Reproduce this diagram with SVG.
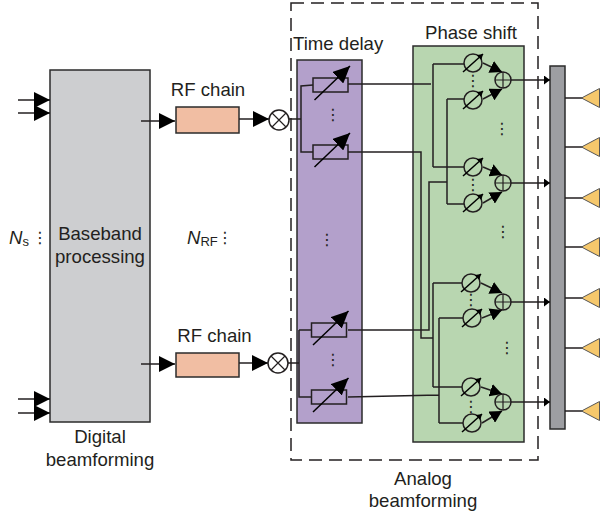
<svg xmlns="http://www.w3.org/2000/svg" width="600" height="516" viewBox="0 0 600 516">
<style>
text{font-family:"Liberation Sans",Arial,sans-serif;font-size:18.6px;fill:#231f20}
.m{text-anchor:middle}
.i{font-style:italic}
.d{font-family:"DejaVu Sans",sans-serif;font-size:16px;text-anchor:middle}
.l{fill:none;stroke:#231f20;stroke-width:1.5}
.b{stroke:#2b2b2b;stroke-width:1.5}
.ant{fill:#f6c86c;stroke:#555;stroke-width:1}
</style>
<defs>
<marker id="big" markerUnits="userSpaceOnUse" markerWidth="17" markerHeight="16" refX="16" refY="8" orient="auto"><path d="M0 0L16 8L0 16Z" fill="#000"/></marker>
<marker id="med" markerUnits="userSpaceOnUse" markerWidth="13" markerHeight="13" refX="12" refY="6.500" orient="auto"><path d="M0 0L12 6.500L0 13Z" fill="#000"/></marker>
<marker id="out" markerUnits="userSpaceOnUse" markerWidth="7" markerHeight="10" refX="6" refY="4.500" orient="auto"><path d="M0 0L6 4.500L0 9Z" fill="#000"/></marker>
<marker id="small" markerUnits="userSpaceOnUse" markerWidth="6" markerHeight="7" refX="5.500" refY="3.500" orient="auto"><path d="M0 0L5.500 3.500L0 7Z" fill="#000"/></marker>
<marker id="var" markerUnits="userSpaceOnUse" markerWidth="18" markerHeight="16" refX="17" refY="8" orient="auto"><path d="M0 0L17 8L0 16Z" fill="#000"/></marker>
<g id="res">
<rect x="-17.500" y="-7" width="35" height="14" fill="none" stroke="#231f20" stroke-width="1.500"/>
<path d="M-16 15L19.500 -19" fill="none" stroke="#000" stroke-width="1.500" marker-end="url(#var)"/>
</g>
<g id="shifter">
<circle r="9" fill="none" stroke="#231f20" stroke-width="1.500"/>
<path d="M-10 9L10 -9" fill="none" stroke="#000" stroke-width="1.500" marker-end="url(#small)"/>
</g>
<g id="sum">
<circle r="8" fill="none" stroke="#231f20" stroke-width="1.500"/>
<path d="M-8 0H8M0 -8V8" fill="none" stroke="#231f20" stroke-width="1.200"/>
</g>
<g id="mix">
<circle r="10" fill="none" stroke="#231f20" stroke-width="1.500"/>
<path d="M-7 -7L7 7M-7 7L7 -7" fill="none" stroke="#231f20" stroke-width="1.200"/>
</g>
</defs>
<rect width="600" height="516" fill="#fff"/>

<g id="analog-frame"><rect x="291" y="3" width="247" height="457" fill="none" stroke="#231f20" stroke-width="1.500" stroke-dasharray="13 7"/></g>

<g id="digital"><rect class="b" x="50" y="70" width="100" height="352" fill="#cdced0"/>
<text class="m" x="100" y="240">Baseband</text><text class="m" x="100" y="263">processing</text></g>
<g id="digital-label"><text class="m" x="100" y="443">Digital</text><text class="m" x="100" y="466">beamforming</text></g>
<g id="ns"><text x="9" y="244"><tspan class="i">N</tspan><tspan font-size="13" dy="2">s</tspan></text><text class="d" x="40" y="243">⋮</text></g>
<g id="nrf"><text x="187" y="244"><tspan class="i">N</tspan><tspan font-size="13" dy="2">RF</tspan></text><text class="d" x="225" y="243">⋮</text></g>
<g id="rf1"><rect class="b" x="176" y="107" width="63" height="26" fill="#f1bea3"/><text class="m" x="208" y="96">RF chain</text></g>
<g id="rf2"><rect class="b" x="176" y="353" width="63" height="24" fill="#f1bea3"/><text class="m" x="214.500" y="342">RF chain</text></g>

<g id="time-delay"><rect class="b" x="297" y="60" width="65" height="363" fill="#b3a0cb"/>
<text x="293" y="50">Time delay</text>
<text class="d" x="333" y="120">⋮</text><text class="d" x="327" y="245">⋮</text><text class="d" x="333" y="365">⋮</text></g>
<g id="phase-shift"><rect class="b" x="413" y="46" width="111" height="396" fill="#b8d6b0"/>
<text class="m" x="471" y="39">Phase shift</text>
<text class="d" x="473" y="86">⋮</text><text class="d" x="473" y="190">⋮</text><text class="d" x="502" y="134">⋮</text><text class="d" x="503" y="237">⋮</text><text class="d" x="471" y="305">⋮</text><text class="d" x="471" y="412">⋮</text><text class="d" x="507" y="353">⋮</text></g>
<g id="bar"><rect class="b" x="550" y="66" width="15" height="363" fill="#9d9ea2"/></g>

<g id="connectors">
<path class="l" style="marker-end:url(#big)" d="M18 100H50"/>
<path class="l" style="marker-end:url(#big)" d="M18 113H50"/>
<path class="l" style="marker-end:url(#big)" d="M18 399H50"/>
<path class="l" style="marker-end:url(#big)" d="M18 413H50"/>
<path class="l" style="marker-end:url(#big)" d="M141 121H175"/>
<path class="l" style="marker-end:url(#big)" d="M141 364H175"/>
<path class="l" style="marker-end:url(#big)" d="M239 119H269"/>
<path class="l" style="marker-end:url(#big)" d="M239 363H268"/>
<path class="l" d="M289 119H301M313 85L301 86V152H313"/>
<path class="l" d="M288 363H299M299 330V397H311M299 330H311"/>
<path class="l" d="M348 84H431M433 64V167"/>
<path class="l" d="M433 64H464M433 167H464"/>
<path class="l" d="M348 152H421V338H433M433 283V387M433 283H462M433 387H462"/>
<path class="l" d="M348 330H429V182H447M447 99V204M447 99H464M447 204H464"/>
<path class="l" d="M348 397L439 395M439 318V423M439 318H463M439 423H463"/>
<path class="l" style="marker-end:url(#med)" d="M483 63L502 72"/>
<path class="l" style="marker-end:url(#med)" d="M483 99L502 89"/>
<path class="l" style="marker-end:url(#med)" d="M483 167L502 175"/>
<path class="l" style="marker-end:url(#med)" d="M483 203L502 192"/>
<path class="l" style="marker-end:url(#med)" d="M481 283L502 293"/>
<path class="l" style="marker-end:url(#med)" d="M482 318L502 310"/>
<path class="l" style="marker-end:url(#med)" d="M481 387L502 394"/>
<path class="l" style="marker-end:url(#med)" d="M482 423L502 411"/>
<path class="l" style="marker-end:url(#out)" d="M511 80H550"/>
<path class="l" style="marker-end:url(#out)" d="M511 183H550"/>
<path class="l" style="marker-end:url(#out)" d="M511 302H550"/>
<path class="l" style="marker-end:url(#out)" d="M511 402H550"/>
<path class="l" d="M565 98H582M565 147H582M565 198H582M565 247H582M565 298H582M565 348H582M565 411H582"/>
</g>

<g id="mixer1"><use href="#mix" x="279" y="120"/></g>
<g id="mixer2"><use href="#mix" x="278" y="363"/></g>
<g id="td1"><use href="#res" x="330.500" y="85"/></g>
<g id="td2"><use href="#res" x="330.500" y="152"/></g>
<g id="td3"><use href="#res" x="329" y="330"/></g>
<g id="td4"><use href="#res" x="329" y="397"/></g>
<g id="ps1"><use href="#shifter" x="473" y="63"/></g>
<g id="ps2"><use href="#shifter" x="473" y="100"/></g>
<g id="ps3"><use href="#shifter" x="473" y="167"/></g>
<g id="ps4"><use href="#shifter" x="473" y="203"/></g>
<g id="ps5"><use href="#shifter" x="471" y="283"/></g>
<g id="ps6"><use href="#shifter" x="472" y="318"/></g>
<g id="ps7"><use href="#shifter" x="471" y="387"/></g>
<g id="ps8"><use href="#shifter" x="472" y="423"/></g>
<g id="sum1"><use href="#sum" x="503" y="80"/></g>
<g id="sum2"><use href="#sum" x="503" y="183"/></g>
<g id="sum3"><use href="#sum" x="503" y="302"/></g>
<g id="sum4"><use href="#sum" x="503" y="402"/></g>
<g id="ant1"><path class="ant" d="M581.500 98L599.500 88.500V107.500Z"/></g>
<g id="ant2"><path class="ant" d="M581.500 147L599.500 137.500V156.500Z"/></g>
<g id="ant3"><path class="ant" d="M581.500 198L599.500 188.500V207.500Z"/></g>
<g id="ant4"><path class="ant" d="M581.500 247L599.500 237.500V256.500Z"/></g>
<g id="ant5"><path class="ant" d="M581.500 298L599.500 288.500V307.500Z"/></g>
<g id="ant6"><path class="ant" d="M581.500 348L599.500 338.500V357.500Z"/></g>
<g id="ant7"><path class="ant" d="M581.500 411L599.500 401.500V420.500Z"/></g>
<g id="analog-label"><text class="m" x="423" y="485">Analog</text><text class="m" x="423" y="507">beamforming</text></g>
</svg>
